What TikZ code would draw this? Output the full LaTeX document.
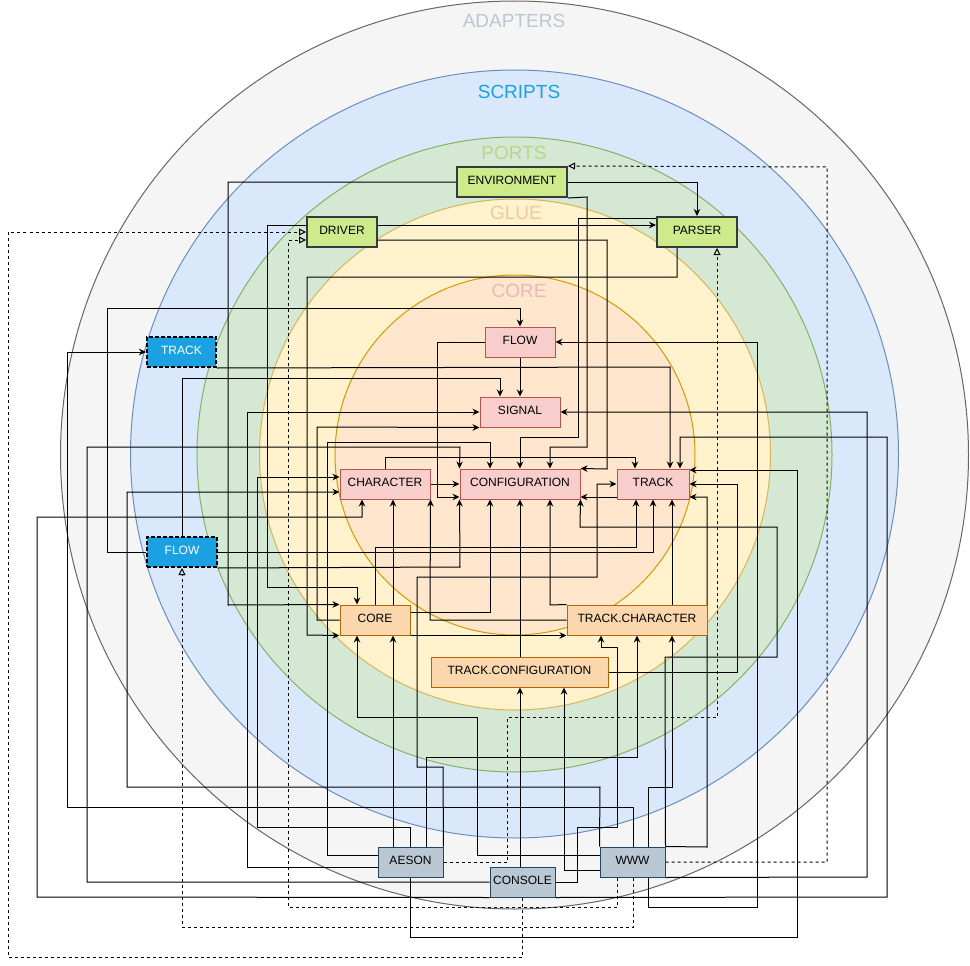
\documentclass[tikz,border=0pt]{standalone}
\usepackage{fontspec}
\setmainfont{Liberation Sans}
\usetikzlibrary{arrows.meta}
\pgfdeclarelayer{back}
\pgfdeclarelayer{mid}
\pgfsetlayers{back,mid,main}
\definecolor{adfill}{HTML}{F5F5F5}
\definecolor{adline}{HTML}{666666}
\definecolor{adlabel}{HTML}{BAC8D3}
\definecolor{scfill}{HTML}{DAE8FC}
\definecolor{scline}{HTML}{6C8EBF}
\definecolor{sclabel}{HTML}{1BA1E2}
\definecolor{pofill}{HTML}{D5E8D4}
\definecolor{poline}{HTML}{82B366}
\definecolor{polabel}{HTML}{B7D68C}
\definecolor{glfill}{HTML}{FFF2CC}
\definecolor{glline}{HTML}{D6B656}
\definecolor{gllabel}{HTML}{EFC9A0}
\definecolor{cofill}{HTML}{FFE6CC}
\definecolor{coline}{HTML}{D79B00}
\definecolor{colabel}{HTML}{E6BAB6}
\definecolor{portnode}{HTML}{CDEB8B}
\definecolor{portnodeline}{HTML}{36393D}
\definecolor{corenode}{HTML}{F8CECC}
\definecolor{corenodeline}{HTML}{B85450}
\definecolor{gluenode}{HTML}{FAD7AC}
\definecolor{gluenodeline}{HTML}{B46504}
\definecolor{adnode}{HTML}{BAC8D3}
\definecolor{adnodeline}{HTML}{23445D}
\definecolor{scnode}{HTML}{1BA1E2}
\begin{document}
\begin{tikzpicture}[x=1pt,y=-1pt,
  box/.style={draw, minimum height=30pt, inner sep=0pt, text depth=2.6pt, font=\fontsize{12}{14}\selectfont, line width=1pt},
  portbox/.style={box, fill=portnode, draw=portnodeline, line width=2pt},
  corebox/.style={box, fill=corenode, draw=corenodeline},
  gluebox/.style={box, fill=gluenode, draw=gluenodeline},
  adbox/.style={box, fill=adnode, draw=adnodeline},
  scbox/.style={box, fill=scnode, draw=black, dash pattern=on 4pt off 2pt, line width=2pt, text=white},
  ring/.style={line width=1pt},
  ringlabel/.style={font=\fontsize{19}{22}\selectfont},
  conn/.style={line width=1pt, -{Stealth[length=7pt,width=6.5pt]}},
  dconn/.style={line width=1pt, dash pattern=on 3pt off 3pt, -{Triangle[open,length=7pt,width=7pt]}},
]
\useasboundingbox (0,0) rectangle (970,966);
\begin{pgfonlayer}{back}
\fill[white] (0,0) rectangle (970,966);
\filldraw[ring, fill=adfill, draw=adline] (514.5,455) circle[radius=454pt];
\filldraw[ring, fill=scfill, draw=scline] (514.5,454) circle[radius=384pt];
\filldraw[ring, fill=pofill, draw=poline] (514.5,454.5) circle[radius=317.5pt];
\filldraw[ring, fill=glfill, draw=glline] (515,454.5) circle[radius=255.5pt];
\filldraw[ring, fill=cofill, draw=coline] (515,455) circle[radius=180pt];
\node[ringlabel, text=adlabel] (labad) at (514,21) {ADAPTERS};
\node[ringlabel, text=sclabel] (labsc) at (519,92) {SCRIPTS};
\node[ringlabel, text=polabel] (labpo) at (514,153) {PORTS};
\node[ringlabel, text=gllabel] (labgl) at (516,213) {GLUE};
\node[ringlabel, text=colabel] (labco) at (519,291) {CORE};
\end{pgfonlayer}

% nodes
\node[portbox, minimum width=110pt] (env) at (512,182) {ENVIRONMENT};
\node[portbox, minimum width=70pt] (driver) at (342,232) {DRIVER};
\node[portbox, minimum width=80pt] (parser) at (697,232) {PARSER};
\node[corebox, minimum width=70pt] (flow) at (520,342) {FLOW};
\node[corebox, minimum width=80pt] (signal) at (520,412) {SIGNAL};
\node[corebox, minimum width=90pt] (character) at (385,484) {CHARACTER};
\node[corebox, minimum width=120pt] (config) at (520,484) {CONFIGURATION};
\node[corebox, minimum width=72pt] (track) at (653,484) {TRACK};
\node[scbox, minimum width=69pt] (btrack) at (181.5,352) {TRACK};
\node[scbox, minimum width=70pt] (bflow) at (182,552) {FLOW};
\node[gluebox, minimum width=70pt] (gcore) at (375,620) {CORE};
\node[gluebox, minimum width=140pt] (tchar) at (637,620) {TRACK.CHARACTER};
\node[gluebox, minimum width=177pt] (tconf) at (519.5,672) {TRACK.CONFIGURATION};
\node[adbox, minimum width=65pt] (aeson) at (410.5,862) {AESON};
\node[adbox, minimum width=65pt] (console) at (522.5,882) {CONSOLE};
\node[adbox, minimum width=65pt] (www) at (632.5,862) {WWW};

\begin{pgfonlayer}{mid}
\draw[conn] (env.east) -| (parser.north);
\draw[conn] (env.west) -- (228,182) -- (228,605) -- (gcore.north west);
\draw[conn] (env.south east) -- (587,197) -- (587,447) -- (550,447) -- (config.north -| 550,0);
\draw[conn] (driver.east |- 0,225) -- (parser.west |- 0,225);
\draw[conn] (driver.east |- 0,240) -- (607,240) -- (607,469) -- (config.north east);
\draw[conn] (driver.west |- 0,225) -- (267,225) -- (267,587) -- (357,587) -- (gcore.north -| 357,0);
\draw[conn] (parser.west |- 0,218) -- (578,218) -- (578,437) -- (520,437) -- (config.north);
\draw[conn] (parser.south -| 677,0) -- (677,277) -- (307,277) -- (307,635) -- (gcore.south west);
\draw[conn] (bflow.west) -- (107,552) -- (107,308) -- (520,308) -- (flow.north);
\draw[conn] (bflow.north) -- (182,378) -- (500,378) -- (signal.north -| 500,0);
\draw[conn] (bflow.east) -- (653,552) -- (track.south -| 653,0);
\draw[conn] (bflow.south east) -- (460,567) -- (config.south west);
\draw[conn] (btrack.south east) -- (670,367) -- (track.north -| 670,0);
\draw[conn] (www.north -| 633,0) -- (633,807) -- (67,807) -- (67,352) -- (btrack.west);
\draw[conn] (aeson.west |- 0,867) -- (247,867) -- (247,412) -- (signal.west);
\draw[conn] (gcore.west) -- (317,620) -- (317,427) -- (signal.south west);
\draw[conn] (aeson.west |- 0,855) -- (327,855) -- (327,442) -- (490,442) -- (config.north -| 490,0);
\draw[conn] (console.west) -- (87,882) -- (87,447) -- (460,447) -- (config.north west);
\draw[conn] (aeson.north) -- (410.5,827) -- (257,827) -- (257,477) -- (character.west |- 0,477);
\draw[conn] (www.north west) -- (600,787) -- (127,787) -- (127,492) -- (character.west |- 0,492);
\draw[conn] (console.south west) -- (37,897) -- (37,517) -- (362,517) -- (character.south -| 362,0);
\draw[conn] (console.south east) -- (887,897) -- (887,437) -- (680,437) -- (track.north -| 680,0);
\draw[conn] (gcore.north -| 393,0) -- (character.south -| 393,0);
\draw[conn] (gcore.north) -- (375,547) -- (636,547) -- (track.south -| 636,0);
\draw[conn] (gcore.east |- 0,612) -- (490,612) -- (config.south -| 490,0);
\draw[conn] (gcore.south east) -- (tchar.south west);
\draw[conn] (tchar.west) -- (430,620) -- (character.south east);
\draw[conn] (tchar.north west) -- (550,605) -- (config.south -| 550,0);
\draw[conn] (tchar.north -| 672,0) -- (track.south -| 672,0);
\draw[conn] (console.east) -- (577,882) -- (577,827) -- (617,827) -- (617,647) -- (601,647) -- (tchar.south -| 601,0);
\draw[conn] (aeson.north -| 426,0) -- (426,757) -- (637,757) -- (tchar.south);
\draw[conn] (www.north -| 648,0) -- (648,787) -- (672,787) -- (tchar.south -| 672,0);
\draw[conn] (www.west |- 0,855) -- (477,855) -- (477,717) -- (357,717) -- (gcore.south -| 357,0);
\draw[conn] (aeson.north -| 393,0) -- (gcore.south -| 393,0);
\draw[conn] (console.north -| 520,0) -- (tconf.south -| 520,0);
\draw[conn] (www.west |- 0,870) -- (564,870) -- (tconf.south -| 564,0);
\draw[conn] (tconf.north -| 520,0) -- (config.south -| 520,0);
\draw[conn] (tconf.east) -- (737,672) -- (737,484) -- (track.east);
\draw[conn] (www.north east) -- (707,847) -- (707,497) -- (track.east |- 0,497);
\draw[conn] (www.north east) -- (665,657) -- (777,657) -- (777,527) -- (580,527) -- (config.south east);
\draw[conn] (aeson.south) -- (410.5,937) -- (797,937) -- (797,470) -- (track.east |- 0,470);
\draw[conn] (aeson.north east) -- (443,767) -- (417,767) -- (417,577) -- (597,577) -- (597,484) -- (track.west);
\draw[conn] (track.west |- 0,497) -- (config.east |- 0,497);
\draw[conn] (www.south -| 648,0) -- (648,907) -- (757,907) -- (757,342) -- (flow.east);
\draw[conn] (www.south east) -- (867,877) -- (867,412) -- (signal.east);
\draw[conn] (flow.west) -- (437,342) -- (437,497) -- (config.west |- 0,497);
\draw[conn] (flow.south) -- (signal.north);
\draw[conn] (character.east) -- (config.west);
\draw[conn] (character.north) -- (385,457) -- (635,457) -- (track.north -| 635,0);
\draw[dconn] (console.south -| 522,0) -- (522,957) -- (8,957) -- (8,232) -- (driver.west |- 0,232);
\draw[dconn] (www.south -| 617,0) -- (617,907) -- (288,907) -- (288,240) -- (driver.west |- 0,240);
\draw[dconn] (www.south -| 633,0) -- (633,927) -- (182,927) -- (bflow.south);
\draw[dconn] (www.east) -- (827,862) -- (827,167) -- (env.north east);
\draw[dconn] (aeson.east) -- (507,862) -- (507,717) -- (717,717) -- (parser.south -| 717,0);
\end{pgfonlayer}
\end{tikzpicture}
\end{document}
